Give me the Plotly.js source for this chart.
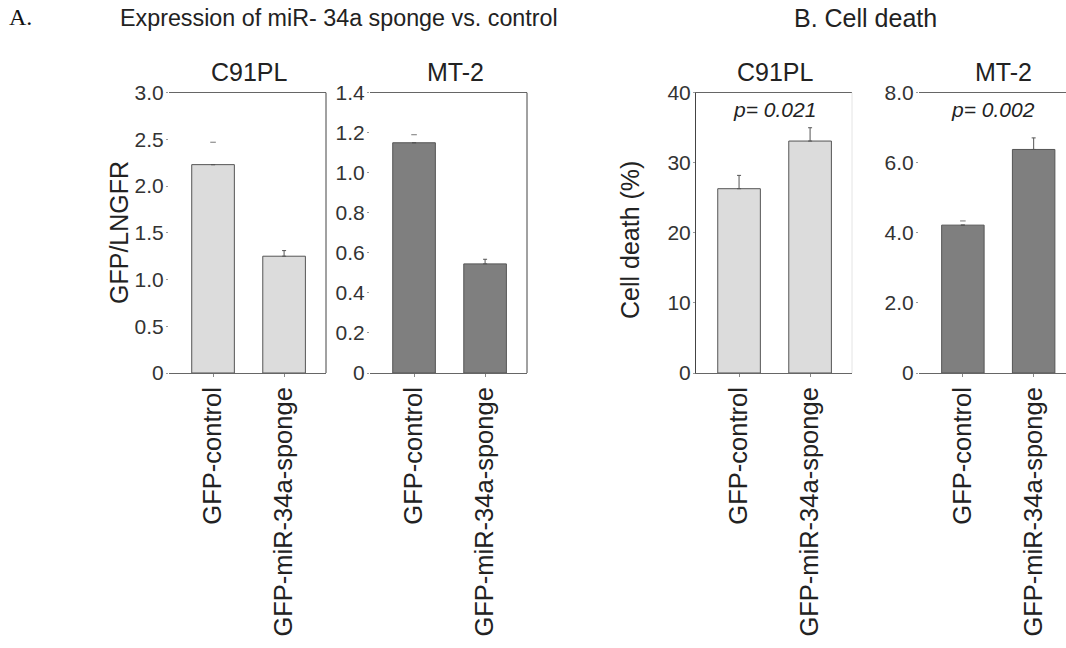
<!DOCTYPE html>
<html>
<head>
<meta charset="utf-8">
<script src="https://cdn.plot.ly/plotly-3.0.1.min.js"></script>
<style>html,body{margin:0;padding:0;background:#fff;}#chart{width:1066px;height:648px;}</style>
</head>
<body>
<div id="chart"></div>
<script>
// ---- data ----
const categories = ['GFP-control', 'GFP-miR-34a-sponge'];
const cellLines = ['C91PL', 'MT-2'];

const exprC91PL = [2.23, 1.25];
const exprC91PLErr = [0.24, 0.06];
const exprMT2 = [1.15, 0.545];
const exprMT2Err = [0.04, 0.023];

const deathC91PL = [26.3, 33.1];
const deathC91PLErr = [1.9, 1.9];
const deathMT2 = [4.22, 6.38];
const deathMT2Err = [0.12, 0.33];

const pValues = ['0.021', '0.002'];

const ticksExprC91PL = [0, 0.5, 1.0, 1.5, 2.0, 2.5, 3.0];
const tickTextExprC91PL = ['0', '0.5', '1.0', '1.5', '2.0', '2.5', '3.0'];
const ticksExprMT2 = [0, 0.2, 0.4, 0.6, 0.8, 1.0, 1.2, 1.4];
const tickTextExprMT2 = ['0', '0.2', '0.4', '0.6', '0.8', '1.0', '1.2', '1.4'];
const ticksDeathC91PL = [0, 10, 20, 30, 40];
const tickTextDeathC91PL = ['0', '10', '20', '30', '40'];
const ticksDeathMT2 = [0, 2, 4, 6, 8];
const tickTextDeathMT2 = ['0', '2.0', '4.0', '6.0', '8.0'];

// ---- styling / layout ----
const W = 1066, H = 648;
const LIGHT = '#dcdcdc', DARK = '#7f7f7f';
const FONT = 'Liberation Sans, Arial, sans-serif';
const px = v => v / W;
const py = v => 1 - v / H;
const yDom = [py(373), py(92.7)];

const panels = [
  {vals: exprC91PL, errs: exprC91PLErr, color: LIGHT, xd: [169, 326], xr: [-0.62, 1.59], yr: [0, 3.0], tv: ticksExprC91PL, tt: tickTextExprC91PL, capOnly: [true, false], tx: 249},
  {vals: exprMT2, errs: exprMT2Err, color: DARK, xd: [370, 527], xr: [-0.62, 1.59], yr: [0, 1.4], tv: ticksExprMT2, tt: tickTextExprMT2, capOnly: [true, false], tx: 455},
  {vals: deathC91PL, errs: deathC91PLErr, color: LIGHT, xd: [696, 852], xr: [-0.606, 1.59], yr: [0, 40], tv: ticksDeathC91PL, tt: tickTextDeathC91PL, capOnly: [false, false], tx: 775},
  {vals: deathMT2, errs: deathMT2Err, color: DARK, xd: [919, 1066], xr: [-0.62, 1.457], yr: [0, 8], tv: ticksDeathMT2, tt: tickTextDeathMT2, capOnly: [true, false], tx: 1003}
];

const traces = [];
const layout = {
  width: W, height: H,
  margin: {l: 0, r: 0, t: 0, b: 0},
  paper_bgcolor: '#fff', plot_bgcolor: 'rgba(0,0,0,0)',
  showlegend: false,
  font: {family: FONT, color: '#222'},
  annotations: [], shapes: []
};

panels.forEach((p, i) => {
  const n = i === 0 ? '' : String(i + 1);
  const xa = 'x' + n, ya = 'y' + n;
  const fullErr = p.errs.map((e, k) => p.capOnly[k] ? 0 : e);
  traces.push({
    type: 'bar', x: categories, y: p.vals, xaxis: xa, yaxis: ya, width: 0.6,
    marker: {color: p.color, line: {color: '#555', width: 1}},
    error_y: {type: 'data', symmetric: false, array: fullErr, arrayminus: p.errs.map(() => 0),
              color: '#555', thickness: 1, width: 2},
    hoverinfo: 'x+y'
  });
  const capX = [], capY = [];
  p.capOnly.forEach((c, k) => { if (c) { capX.push(categories[k]); capY.push(p.vals[k] + p.errs[k]); } });
  if (capX.length) {
    traces.push({type: 'scatter', mode: 'markers', x: capX, y: capY, xaxis: xa, yaxis: ya,
      marker: {symbol: 'line-ew', size: 4, line: {color: '#777', width: 1}}, hoverinfo: 'skip'});
  }
  layout['xaxis' + n] = {
    domain: [px(p.xd[0]), px(p.xd[1])], anchor: ya, type: 'category', range: p.xr,
    showline: true, mirror: true, linecolor: '#666', linewidth: 1,
    ticks: 'outside', ticklen: 3, tickcolor: '#888', tickangle: -90,
    tickfont: {size: 25.5, color: '#222', family: FONT}, showgrid: false, zeroline: false,
    fixedrange: true
  };
  layout['yaxis' + n] = {
    domain: yDom, anchor: xa, range: p.yr, tickmode: 'array', tickvals: p.tv, ticktext: p.tt,
    showline: i === 2, linecolor: '#444', linewidth: 1, mirror: false,
    ticks: 'outside', ticklen: 2, tickcolor: '#999', ticklabelstandoff: -2,
    tickfont: {size: 21, color: '#333', family: FONT}, showgrid: false, zeroline: false,
    fixedrange: true
  };
  // panel title
  layout.annotations.push({
    text: cellLines[i % 2], xref: 'paper', yref: 'paper',
    x: px(p.tx), y: py(72), xanchor: 'center', yanchor: 'middle',
    showarrow: false, font: {size: 25, color: '#222', family: FONT}
  });
});

// y-axis titles
layout.annotations.push({text: 'GFP/LNGFR', xref: 'paper', yref: 'paper', x: px(119), y: py(233),
  xanchor: 'center', yanchor: 'middle', textangle: -90, showarrow: false, font: {size: 25, color: '#222', family: FONT}});
layout.annotations.push({text: 'Cell death (%)', xref: 'paper', yref: 'paper', x: px(630), y: py(240),
  xanchor: 'center', yanchor: 'middle', textangle: -90, showarrow: false, font: {size: 25, color: '#222', family: FONT}});

// right frame edges
layout.shapes.push({type: 'line', xref: 'x domain', yref: 'y domain', x0: 1, x1: 1, y0: 0, y1: 1, line: {color: '#444', width: 1}});
layout.shapes.push({type: 'line', xref: 'x2 domain', yref: 'y2 domain', x0: 1, x1: 1, y0: 0, y1: 1, line: {color: '#444', width: 1}});
layout.shapes.push({type: 'line', xref: 'x3 domain', yref: 'y3 domain', x0: 1, x1: 1, y0: 0, y1: 1, line: {color: '#e4e4e4', width: 1}});

// p-values
['x3', 'x4'].forEach((xa, k) => {
  layout.annotations.push({
    text: '<i>p</i>= <i>' + pValues[k] + '</i>', xref: xa + ' domain', yref: 'paper',
    x: 0.5, y: py(110), xanchor: 'center', yanchor: 'middle', showarrow: false,
    font: {size: 21, color: '#222', family: FONT, style: 'italic'}
  });
});

// section headers
layout.annotations.push({text: 'A.', xref: 'paper', yref: 'paper', x: px(7), y: py(17), xanchor: 'left', yanchor: 'middle',
  showarrow: false, font: {size: 24, color: '#111', family: 'Liberation Serif, Times New Roman, serif'}});
layout.annotations.push({text: 'Expression of miR- 34a sponge vs. control', xref: 'paper', yref: 'paper', x: px(118), y: py(18),
  xanchor: 'left', yanchor: 'middle', showarrow: false, font: {size: 23.3, color: '#222', family: FONT}});
layout.annotations.push({text: 'B. Cell death', xref: 'paper', yref: 'paper', x: px(792), y: py(18),
  xanchor: 'left', yanchor: 'middle', showarrow: false, font: {size: 25, color: '#222', family: FONT}});

Plotly.newPlot('chart', traces, layout, {displayModeBar: false, staticPlot: true});
</script>
</body>
</html>
